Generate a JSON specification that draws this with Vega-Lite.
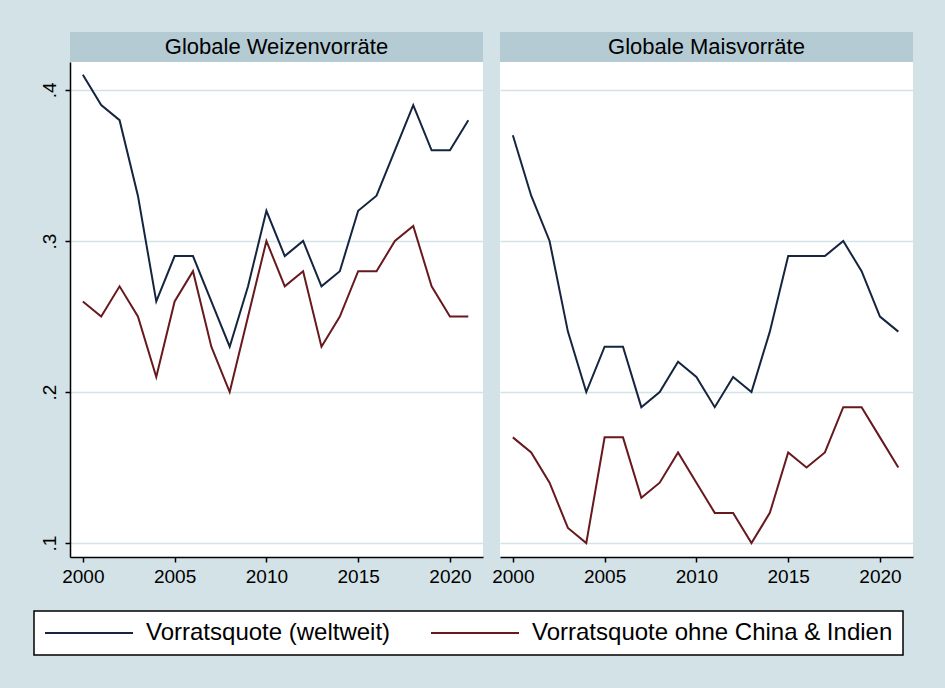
{
  "$schema": "https://vega.github.io/schema/vega-lite/v6.json",
  "background": "#D2E2E6",
  "padding": {"left": 33, "top": 32, "right": 33, "bottom": 34},
  "bounds": "flush",
  "columns": 2,
  "spacing": {"row": 0, "column": 17},
  "config": {
    "font": "Liberation Sans",
    "view": {"stroke": null},
    "axis": {"labelColor": "#000000", "labelFont": "Liberation Sans"},
    "text": {"font": "Liberation Sans"},
    "legend": {"strokeWidth": 1.5}
  },
  "datasets": {
    "weizen": [
      {"jahr": 2000, "reihe": "Vorratsquote (weltweit)", "wert": 0.41},
      {"jahr": 2001, "reihe": "Vorratsquote (weltweit)", "wert": 0.39},
      {"jahr": 2002, "reihe": "Vorratsquote (weltweit)", "wert": 0.38},
      {"jahr": 2003, "reihe": "Vorratsquote (weltweit)", "wert": 0.33},
      {"jahr": 2004, "reihe": "Vorratsquote (weltweit)", "wert": 0.26},
      {"jahr": 2005, "reihe": "Vorratsquote (weltweit)", "wert": 0.29},
      {"jahr": 2006, "reihe": "Vorratsquote (weltweit)", "wert": 0.29},
      {"jahr": 2007, "reihe": "Vorratsquote (weltweit)", "wert": 0.26},
      {"jahr": 2008, "reihe": "Vorratsquote (weltweit)", "wert": 0.23},
      {"jahr": 2009, "reihe": "Vorratsquote (weltweit)", "wert": 0.27},
      {"jahr": 2010, "reihe": "Vorratsquote (weltweit)", "wert": 0.32},
      {"jahr": 2011, "reihe": "Vorratsquote (weltweit)", "wert": 0.29},
      {"jahr": 2012, "reihe": "Vorratsquote (weltweit)", "wert": 0.30},
      {"jahr": 2013, "reihe": "Vorratsquote (weltweit)", "wert": 0.27},
      {"jahr": 2014, "reihe": "Vorratsquote (weltweit)", "wert": 0.28},
      {"jahr": 2015, "reihe": "Vorratsquote (weltweit)", "wert": 0.32},
      {"jahr": 2016, "reihe": "Vorratsquote (weltweit)", "wert": 0.33},
      {"jahr": 2017, "reihe": "Vorratsquote (weltweit)", "wert": 0.36},
      {"jahr": 2018, "reihe": "Vorratsquote (weltweit)", "wert": 0.39},
      {"jahr": 2019, "reihe": "Vorratsquote (weltweit)", "wert": 0.36},
      {"jahr": 2020, "reihe": "Vorratsquote (weltweit)", "wert": 0.36},
      {"jahr": 2021, "reihe": "Vorratsquote (weltweit)", "wert": 0.38},
      {"jahr": 2000, "reihe": "Vorratsquote ohne China & Indien", "wert": 0.26},
      {"jahr": 2001, "reihe": "Vorratsquote ohne China & Indien", "wert": 0.25},
      {"jahr": 2002, "reihe": "Vorratsquote ohne China & Indien", "wert": 0.27},
      {"jahr": 2003, "reihe": "Vorratsquote ohne China & Indien", "wert": 0.25},
      {"jahr": 2004, "reihe": "Vorratsquote ohne China & Indien", "wert": 0.21},
      {"jahr": 2005, "reihe": "Vorratsquote ohne China & Indien", "wert": 0.26},
      {"jahr": 2006, "reihe": "Vorratsquote ohne China & Indien", "wert": 0.28},
      {"jahr": 2007, "reihe": "Vorratsquote ohne China & Indien", "wert": 0.23},
      {"jahr": 2008, "reihe": "Vorratsquote ohne China & Indien", "wert": 0.20},
      {"jahr": 2009, "reihe": "Vorratsquote ohne China & Indien", "wert": 0.25},
      {"jahr": 2010, "reihe": "Vorratsquote ohne China & Indien", "wert": 0.30},
      {"jahr": 2011, "reihe": "Vorratsquote ohne China & Indien", "wert": 0.27},
      {"jahr": 2012, "reihe": "Vorratsquote ohne China & Indien", "wert": 0.28},
      {"jahr": 2013, "reihe": "Vorratsquote ohne China & Indien", "wert": 0.23},
      {"jahr": 2014, "reihe": "Vorratsquote ohne China & Indien", "wert": 0.25},
      {"jahr": 2015, "reihe": "Vorratsquote ohne China & Indien", "wert": 0.28},
      {"jahr": 2016, "reihe": "Vorratsquote ohne China & Indien", "wert": 0.28},
      {"jahr": 2017, "reihe": "Vorratsquote ohne China & Indien", "wert": 0.30},
      {"jahr": 2018, "reihe": "Vorratsquote ohne China & Indien", "wert": 0.31},
      {"jahr": 2019, "reihe": "Vorratsquote ohne China & Indien", "wert": 0.27},
      {"jahr": 2020, "reihe": "Vorratsquote ohne China & Indien", "wert": 0.25},
      {"jahr": 2021, "reihe": "Vorratsquote ohne China & Indien", "wert": 0.25}
    ],
    "mais": [
      {"jahr": 2000, "reihe": "Vorratsquote (weltweit)", "wert": 0.37},
      {"jahr": 2001, "reihe": "Vorratsquote (weltweit)", "wert": 0.33},
      {"jahr": 2002, "reihe": "Vorratsquote (weltweit)", "wert": 0.30},
      {"jahr": 2003, "reihe": "Vorratsquote (weltweit)", "wert": 0.24},
      {"jahr": 2004, "reihe": "Vorratsquote (weltweit)", "wert": 0.20},
      {"jahr": 2005, "reihe": "Vorratsquote (weltweit)", "wert": 0.23},
      {"jahr": 2006, "reihe": "Vorratsquote (weltweit)", "wert": 0.23},
      {"jahr": 2007, "reihe": "Vorratsquote (weltweit)", "wert": 0.19},
      {"jahr": 2008, "reihe": "Vorratsquote (weltweit)", "wert": 0.20},
      {"jahr": 2009, "reihe": "Vorratsquote (weltweit)", "wert": 0.22},
      {"jahr": 2010, "reihe": "Vorratsquote (weltweit)", "wert": 0.21},
      {"jahr": 2011, "reihe": "Vorratsquote (weltweit)", "wert": 0.19},
      {"jahr": 2012, "reihe": "Vorratsquote (weltweit)", "wert": 0.21},
      {"jahr": 2013, "reihe": "Vorratsquote (weltweit)", "wert": 0.20},
      {"jahr": 2014, "reihe": "Vorratsquote (weltweit)", "wert": 0.24},
      {"jahr": 2015, "reihe": "Vorratsquote (weltweit)", "wert": 0.29},
      {"jahr": 2016, "reihe": "Vorratsquote (weltweit)", "wert": 0.29},
      {"jahr": 2017, "reihe": "Vorratsquote (weltweit)", "wert": 0.29},
      {"jahr": 2018, "reihe": "Vorratsquote (weltweit)", "wert": 0.30},
      {"jahr": 2019, "reihe": "Vorratsquote (weltweit)", "wert": 0.28},
      {"jahr": 2020, "reihe": "Vorratsquote (weltweit)", "wert": 0.25},
      {"jahr": 2021, "reihe": "Vorratsquote (weltweit)", "wert": 0.24},
      {"jahr": 2000, "reihe": "Vorratsquote ohne China & Indien", "wert": 0.17},
      {"jahr": 2001, "reihe": "Vorratsquote ohne China & Indien", "wert": 0.16},
      {"jahr": 2002, "reihe": "Vorratsquote ohne China & Indien", "wert": 0.14},
      {"jahr": 2003, "reihe": "Vorratsquote ohne China & Indien", "wert": 0.11},
      {"jahr": 2004, "reihe": "Vorratsquote ohne China & Indien", "wert": 0.10},
      {"jahr": 2005, "reihe": "Vorratsquote ohne China & Indien", "wert": 0.17},
      {"jahr": 2006, "reihe": "Vorratsquote ohne China & Indien", "wert": 0.17},
      {"jahr": 2007, "reihe": "Vorratsquote ohne China & Indien", "wert": 0.13},
      {"jahr": 2008, "reihe": "Vorratsquote ohne China & Indien", "wert": 0.14},
      {"jahr": 2009, "reihe": "Vorratsquote ohne China & Indien", "wert": 0.16},
      {"jahr": 2010, "reihe": "Vorratsquote ohne China & Indien", "wert": 0.14},
      {"jahr": 2011, "reihe": "Vorratsquote ohne China & Indien", "wert": 0.12},
      {"jahr": 2012, "reihe": "Vorratsquote ohne China & Indien", "wert": 0.12},
      {"jahr": 2013, "reihe": "Vorratsquote ohne China & Indien", "wert": 0.10},
      {"jahr": 2014, "reihe": "Vorratsquote ohne China & Indien", "wert": 0.12},
      {"jahr": 2015, "reihe": "Vorratsquote ohne China & Indien", "wert": 0.16},
      {"jahr": 2016, "reihe": "Vorratsquote ohne China & Indien", "wert": 0.15},
      {"jahr": 2017, "reihe": "Vorratsquote ohne China & Indien", "wert": 0.16},
      {"jahr": 2018, "reihe": "Vorratsquote ohne China & Indien", "wert": 0.19},
      {"jahr": 2019, "reihe": "Vorratsquote ohne China & Indien", "wert": 0.19},
      {"jahr": 2020, "reihe": "Vorratsquote ohne China & Indien", "wert": 0.17},
      {"jahr": 2021, "reihe": "Vorratsquote ohne China & Indien", "wert": 0.15}
    ],
    "titel1": [{"t": "Globale Weizenvorräte"}],
    "titel2": [{"t": "Globale Maisvorräte"}]
  },
  "concat": [
    {
      "data": {"name": "titel1"},
      "width": 413,
      "height": 30,
      "view": {"fill": "#B4CBD4", "stroke": null},
      "mark": {"type": "text", "fontSize": 22, "color": "#000000"},
      "encoding": {"text": {"field": "t"}}
    },
    {
      "data": {"name": "titel2"},
      "width": 413,
      "height": 30,
      "view": {"fill": "#B4CBD4", "stroke": null},
      "mark": {"type": "text", "fontSize": 22, "color": "#000000"},
      "encoding": {"text": {"field": "t"}}
    },
    {
      "data": {"name": "weizen"},
      "width": 413,
      "height": 495,
      "view": {"fill": "#FFFFFF", "stroke": null},
      "mark": {"type": "line", "strokeWidth": 2},
      "encoding": {
        "x": {
          "field": "jahr", "type": "quantitative",
          "scale": {"domain": [1999.3, 2021.8], "nice": false, "zero": false},
          "axis": {"title": null, "values": [2000, 2005, 2010, 2015, 2020], "format": "d", "grid": false,
            "labelFontSize": 19, "tickSize": 5, "tickColor": "#000000", "tickWidth": 1.5,
            "domainColor": "#000000", "domainWidth": 1.5, "labelPadding": 5}
        },
        "y": {
          "field": "wert", "type": "quantitative",
          "scale": {"domain": [0.0908, 0.4185], "nice": false, "zero": false},
          "axis": {"title": null, "values": [0.1, 0.2, 0.3, 0.4],
            "labelExpr": "substring(format(datum.value, '.1f'), 1)",
            "labelFontSize": 19, "labelAngle": -90, "labelAlign": "center", "labelBaseline": "bottom",
            "labelPadding": 6, "tickSize": 5, "tickColor": "#000000", "tickWidth": 1.5,
            "domainColor": "#000000", "domainWidth": 1.5,
            "grid": true, "gridColor": "#D3E4E8", "gridWidth": 1.5}
        },
        "color": {
          "field": "reihe", "type": "nominal",
          "scale": {"domain": ["Vorratsquote (weltweit)", "Vorratsquote ohne China & Indien"], "range": ["#15243F", "#67191E"]},
          "legend": {
            "orient": "none", "legendX": -36, "legendY": 579, "direction": "horizontal",
            "title": null, "fillColor": "#FFFFFF", "strokeColor": "#000000",
            "padding": 10, "symbolType": "M-1,0H7", "symbolSize": 484, "symbolStrokeWidth": 2,
            "labelFontSize": 24, "labelOffset": 78, "columnPadding": 36, "labelLimit": 0,
            "labelColor": "#000000", "labelFont": "Liberation Sans"
          }
        }
      }
    },
    {
      "data": {"name": "mais"},
      "width": 413,
      "height": 495,
      "view": {"fill": "#FFFFFF", "stroke": null},
      "mark": {"type": "line", "strokeWidth": 2},
      "encoding": {
        "x": {
          "field": "jahr", "type": "quantitative",
          "scale": {"domain": [1999.3, 2021.8], "nice": false, "zero": false},
          "axis": {"title": null, "values": [2000, 2005, 2010, 2015, 2020], "format": "d", "grid": false,
            "labelFontSize": 19, "tickSize": 5, "tickColor": "#000000", "tickWidth": 1.5,
            "domainColor": "#000000", "domainWidth": 1.5, "labelPadding": 5}
        },
        "y": {
          "field": "wert", "type": "quantitative",
          "scale": {"domain": [0.0908, 0.4185], "nice": false, "zero": false},
          "axis": {"title": null, "values": [0.1, 0.2, 0.3, 0.4], "labels": false, "ticks": false, "domain": false,
            "grid": true, "gridColor": "#D3E4E8", "gridWidth": 1.5}
        },
        "color": {"field": "reihe", "type": "nominal"}
      }
    }
  ]
}
